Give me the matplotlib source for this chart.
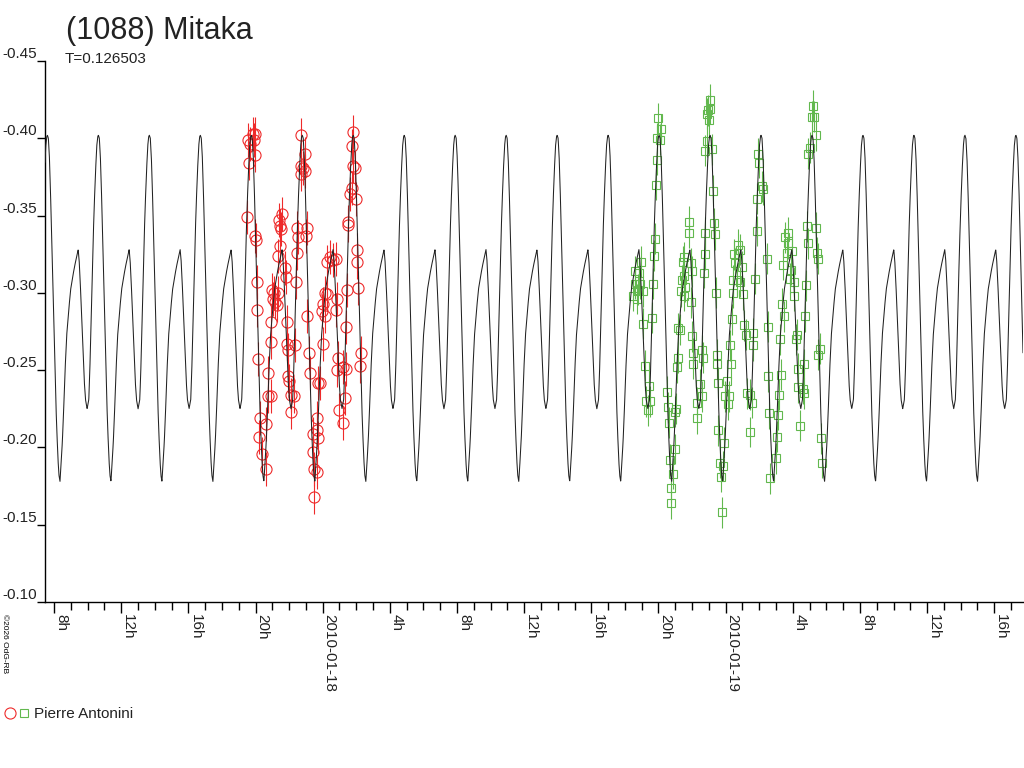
import numpy as np
import matplotlib.pyplot as plt
from matplotlib.ticker import MultipleLocator, FuncFormatter
from matplotlib.transforms import blended_transform_factory
from matplotlib.legend_handler import HandlerTuple
from matplotlib.lines import Line2D

plt.rcParams['font.family'] = ['Liberation Sans', 'DejaVu Sans']

title = '(1088) Mitaka'
period_text = 'T=0.126503'
observer = 'Pierre Antonini'
credit = '\u00a92026 OdG-RB'
# time axis: hours counted from 2010-01-18 00:00 UT
day_labels = {0: '2010-01-18', 24: '2010-01-19'}
t_min, t_max = -16.54, 41.71

period_h = 0.126503 * 24
epoch_h = 20.036  # a main maximum of the model

# one rotation of the model light curve (phase, reduced mag)
shape_phase = [0.000, 0.019, 0.039, 0.058, 0.078, 0.097, 0.117, 0.136, 0.156, 0.182,
               0.208, 0.227, 0.247, 0.266, 0.292, 0.312, 0.344, 0.377, 0.416, 0.455,
               0.494, 0.532, 0.571, 0.604, 0.623, 0.643, 0.669, 0.695, 0.721, 0.747,
               0.779, 0.812, 0.831, 0.851, 0.870, 0.890, 0.916, 0.942, 0.968, 0.987]
shape_mag = [-0.402, -0.400, -0.388, -0.369, -0.343, -0.317, -0.291, -0.265, -0.239, -0.213,
             -0.192, -0.182, -0.178, -0.188, -0.203, -0.218, -0.248, -0.272, -0.288, -0.302,
             -0.310, -0.317, -0.323, -0.328, -0.321, -0.308, -0.287, -0.265, -0.244, -0.231,
             -0.225, -0.231, -0.248, -0.274, -0.300, -0.326, -0.354, -0.377, -0.395, -0.401]

# session 1 (red circles)
red_t = [-4.171, -4.429, -4.032, -4.330, -4.072, -4.389, -4.032, -4.489, -4.052, -3.972,
         -3.893, -3.933, -3.833, -3.734, -3.377, -3.794, -3.615, -3.397, -3.238, -3.278,
         -3.099, -3.099, -3.079, -2.980, -3.039, -2.900, -2.742, -2.841, -2.682, -2.642,
         -2.543, -2.583, -2.543, -2.404, -2.484, -2.245, -2.186, -2.146, -2.086, -2.106,
         -1.630, -2.047, -1.987, -1.908, -1.709, -1.908, -1.590, -1.550, -1.491, -1.511,
         -1.312, -1.054, -1.193, -1.312, -1.292, -1.054, -0.915, -0.975, -0.915, -0.796,
         -0.756, -0.320, -0.320, -0.597, -0.260, -0.597, -0.498, -0.320, -0.498, -0.161,
         -0.260, -0.002, -0.042, 0.137, 0.038, 0.137, 0.276, 0.236, 0.435, 0.633,
         0.792, 0.832, 0.792, 1.428, 1.408, 0.931, 0.832, 1.229, 1.388, 1.328,
         0.991, 1.189, 1.527, 1.527, 1.626, 1.725, 1.983, 1.785, 1.924, 1.725,
         1.785, 2.063, 2.063, 2.122, 2.261, 2.222]
red_mag = [-0.403, -0.399, -0.403, -0.396, -0.399, -0.384, -0.389, -0.349, -0.337, -0.334,
           -0.307, -0.289, -0.257, -0.219, -0.215, -0.207, -0.196, -0.186, -0.248, -0.233,
           -0.233, -0.268, -0.281, -0.296, -0.302, -0.300, -0.292, -0.294, -0.300, -0.324,
           -0.330, -0.347, -0.343, -0.351, -0.341, -0.316, -0.310, -0.281, -0.263, -0.267,
           -0.266, -0.246, -0.243, -0.234, -0.233, -0.223, -0.307, -0.326, -0.336, -0.342,
           -0.402, -0.390, -0.381, -0.382, -0.377, -0.379, -0.342, -0.337, -0.285, -0.261,
           -0.248, -0.219, -0.211, -0.209, -0.206, -0.197, -0.186, -0.184, -0.168, -0.242,
           -0.242, -0.267, -0.288, -0.285, -0.293, -0.300, -0.299, -0.320, -0.323, -0.321,
           -0.322, -0.296, -0.289, -0.302, -0.278, -0.258, -0.250, -0.252, -0.251, -0.232,
           -0.224, -0.216, -0.344, -0.346, -0.364, -0.368, -0.361, -0.382, -0.381, -0.395,
           -0.404, -0.328, -0.320, -0.303, -0.261, -0.253]
red_err = 0.011

# session 2 (green squares)
green_t = [19.990, 20.149, 20.090, 19.891, 19.891, 19.831, 19.792, 19.752, 19.692, 19.593,
           19.097, 18.938, 18.839, 18.601, 18.501, 18.799, 19.097, 18.700, 19.196, 19.434,
           19.236, 19.494, 19.395, 20.487, 20.586, 20.626, 20.983, 21.023, 20.983, 20.685,
           20.884, 20.745, 20.725, 21.142, 21.122, 21.181, 21.281, 21.340, 21.519, 21.578,
           21.539, 21.479, 21.817, 21.817, 21.936, 21.976, 21.936, 22.015, 22.075, 22.075,
           21.539, 21.380, 18.601, 18.898,
           22.968, 23.067, 23.027, 22.869, 22.769, 23.166, 23.226, 23.305, 23.365, 22.769,
           22.769, 22.710, 23.424, 22.571, 22.630, 22.472, 22.571, 22.273, 22.313, 23.504,
           23.504, 23.563, 24.060, 24.258, 24.298, 24.219, 23.960, 24.159, 24.358, 24.417,
           24.457, 24.556, 24.497, 24.755, 24.854, 24.953, 25.013, 25.092, 25.211, 25.648,
           25.608, 25.251, 25.449, 25.549, 25.449, 23.563, 23.901, 23.663, 23.822, 23.702,
           23.762, 25.747, 25.847, 25.847, 26.005, 25.946, 24.655, 24.854, 23.067, 22.908,
           26.145, 26.244, 26.443, 26.502, 26.502, 26.582, 27.038, 26.979, 26.641, 27.138,
           27.177, 27.296, 27.237, 27.336, 27.495, 27.436, 27.535, 27.733, 27.634, 27.972,
           27.833, 28.091, 28.091, 28.230, 28.170, 28.289, 28.329, 28.627, 28.686, 28.428,
           28.726, 28.766, 28.825, 28.885, 29.361, 29.421, 29.520, 29.222, 29.163, 29.282,
           29.361, 29.024, 28.924, 29.619, 29.520, 29.679, 29.719, 28.686, 27.733, 27.892]
green_mag = [-0.413, -0.406, -0.399, -0.400, -0.386, -0.370, -0.335, -0.324, -0.306, -0.284,
             -0.280, -0.320, -0.313, -0.306, -0.298, -0.302, -0.301, -0.296, -0.253, -0.240,
             -0.230, -0.230, -0.224, -0.236, -0.226, -0.216, -0.223, -0.225, -0.199, -0.192,
             -0.183, -0.174, -0.164, -0.258, -0.252, -0.277, -0.276, -0.301, -0.298, -0.304,
             -0.323, -0.320, -0.346, -0.339, -0.319, -0.314, -0.294, -0.272, -0.261, -0.254,
             -0.311, -0.308, -0.314, -0.306,
             -0.418, -0.419, -0.412, -0.398, -0.392, -0.393, -0.366, -0.345, -0.338, -0.339,
             -0.325, -0.313, -0.300, -0.263, -0.258, -0.241, -0.233, -0.219, -0.229, -0.260,
             -0.254, -0.242, -0.243, -0.266, -0.254, -0.233, -0.233, -0.228, -0.283, -0.300,
             -0.308, -0.319, -0.325, -0.331, -0.328, -0.317, -0.299, -0.279, -0.273, -0.274,
             -0.266, -0.235, -0.234, -0.229, -0.210, -0.211, -0.203, -0.190, -0.188, -0.181,
             -0.158, -0.309, -0.340, -0.361, -0.384, -0.390, -0.308, -0.307, -0.425, -0.416,
             -0.369, -0.367, -0.322, -0.278, -0.246, -0.222, -0.207, -0.193, -0.180, -0.221,
             -0.234, -0.247, -0.270, -0.293, -0.285, -0.318, -0.336, -0.339, -0.326, -0.327,
             -0.309, -0.307, -0.298, -0.273, -0.270, -0.251, -0.239, -0.238, -0.254, -0.214,
             -0.285, -0.305, -0.343, -0.332, -0.342, -0.326, -0.322, -0.421, -0.414, -0.414,
             -0.402, -0.394, -0.390, -0.264, -0.260, -0.206, -0.190, -0.235, -0.332, -0.315]
green_err = 0.010

y_ticks = [-0.45, -0.40, -0.35, -0.30, -0.25, -0.20, -0.15, -0.10]

red = '#ee2a2a'
green = '#62b84e'

fig = plt.figure(figsize=(10.24, 7.68), dpi=100)
ax = fig.add_axes([45 / 1024, 1 - 602 / 768, 978 / 1024, 541 / 768])

# model curve
t_model = np.linspace(t_min, t_max, 6000)
phase = ((t_model - epoch_h) / period_h) % 1.0
mag_model = np.interp(phase, shape_phase, shape_mag, period=1.0)

ax.errorbar(red_t, red_mag, yerr=red_err, fmt='o', ms=8, mfc='none', mec=red, mew=0.8,
            ecolor=red, elinewidth=0.8, capsize=0, zorder=2)
ax.errorbar(green_t, green_mag, yerr=green_err, fmt='s', ms=5.5, mfc='none', mec=green, mew=0.8,
            ecolor=green, elinewidth=0.8, capsize=0, zorder=2)
ax.plot(t_model, mag_model, color='#222222', lw=0.75, zorder=3)

ax.set_xlim(t_min, t_max)
ax.set_ylim(-0.10, -0.45)

for s in ['top', 'right']:
    ax.spines[s].set_visible(False)
ax.spines['left'].set_linewidth(1)
ax.spines['bottom'].set_linewidth(1)

ax.set_yticks(y_ticks)
ax.tick_params(axis='y', length=6, width=1, direction='out', labelleft=False)
trans = blended_transform_factory(fig.transFigure, ax.transData)
for v in y_ticks:
    ax.text(37 / 1024, v, '%.2f' % v, transform=trans, ha='right', va='bottom', fontsize=11,
            color='#222222')

def hour_label(h, pos):
    h = int(round(h))
    if h in day_labels:
        return day_labels[h]
    return '%dh' % (h % 24)

ax.xaxis.set_major_locator(MultipleLocator(4))
ax.xaxis.set_minor_locator(MultipleLocator(1))
ax.xaxis.set_major_formatter(FuncFormatter(hour_label))
ax.tick_params(axis='x', which='major', length=8, width=1, direction='out', pad=1, labelsize=11,
               labelcolor='#222222')
ax.tick_params(axis='x', which='minor', length=5.5, width=1, direction='out')
plt.setp(ax.get_xticklabels(), rotation=-90, ha='left', va='top')

fig.text(66 / 1024, 1 - 39 / 768, title, fontsize=22, ha='left', va='baseline', color='#222222')
fig.text(65 / 1024, 1 - 63 / 768, period_text, fontsize=11, ha='left', va='baseline', color='#222222')
fig.text(1 / 1024, 1 - 614 / 768, credit, fontsize=6, rotation=-90, ha='left', va='top')

h1 = Line2D([], [], marker='o', ls='none', ms=8, mfc='none', mec=red, mew=0.8)
h2 = Line2D([], [], marker='s', ls='none', ms=5.5, mfc='none', mec=green, mew=0.8)
fig.legend(handles=[(h1, h2)], labels=[observer], handler_map={tuple: HandlerTuple(ndivide=None, pad=0.2)},
           loc='center left', bbox_to_anchor=(0.002, 1 - 714 / 768), frameon=False, fontsize=11,
           handlelength=1.6, handletextpad=0.3, borderaxespad=0, borderpad=0.2, labelcolor='#222222')

fig.savefig('out.png', dpi=100)
